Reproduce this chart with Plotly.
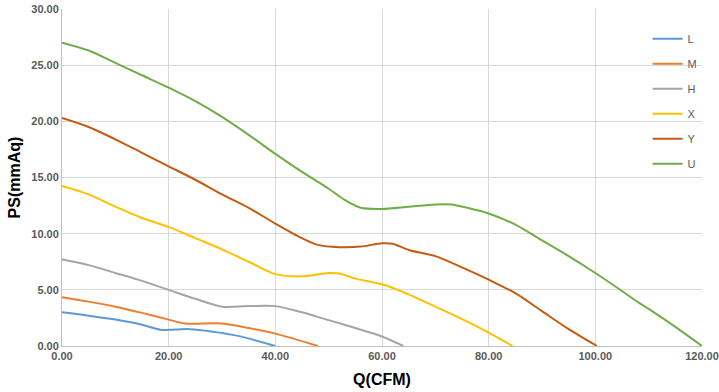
import plotly.graph_objects as go

L_q = [0, 5, 10, 15, 18.5, 24, 28, 33, 40]
L_ps = [3.0, 2.7, 2.35, 1.9, 1.45, 1.5, 1.3, 0.9, 0.0]

M_q = [0, 5, 10, 15, 20, 23, 30, 35, 40, 48]
M_ps = [4.35, 3.95, 3.5, 2.95, 2.35, 2.0, 2.0, 1.6, 1.1, 0.0]

H_q = [0, 5, 10, 15, 20, 25, 30, 35, 40, 45, 50, 55, 60, 64]
H_ps = [7.7, 7.2, 6.5, 5.8, 5.0, 4.2, 3.5, 3.55, 3.55, 3.0, 2.3, 1.6, 0.85, 0.0]

X_q = [0, 5, 10, 15, 20, 25, 30, 35, 40, 45, 50, 52, 55, 60, 65, 70, 75, 80, 84.5]
X_ps = [14.25, 13.5, 12.4, 11.4, 10.6, 9.6, 8.6, 7.5, 6.4, 6.2, 6.5, 6.45, 6.0, 5.5, 4.6, 3.5, 2.4, 1.2, 0.0]

Y_q = [0, 5, 10, 15, 20, 25, 30, 35, 40, 45, 48, 52, 56, 60, 62, 65, 70, 75, 80, 85, 90, 95, 100.3]
Y_ps = [20.3, 19.5, 18.4, 17.2, 16.0, 14.8, 13.5, 12.3, 10.9, 9.6, 9.0, 8.8, 8.85, 9.15, 9.1, 8.55, 8.0, 7.0, 5.9, 4.7, 3.1, 1.5, 0.0]

U_q = [0, 5, 10, 15, 20, 25, 30, 35, 40, 45, 50, 53, 56, 60, 65, 70, 73, 76, 80, 85, 90, 95, 100, 105, 108, 110, 115, 120]
U_ps = [27.0, 26.3, 25.2, 24.1, 23.0, 21.8, 20.4, 18.8, 17.1, 15.5, 14.0, 13.0, 12.3, 12.2, 12.4, 12.6, 12.6, 12.3, 11.8, 10.8, 9.4, 8.0, 6.5, 4.9, 3.9, 3.3, 1.7, 0.0]

series = [
    ("L", L_q, L_ps, "#5B9BD5"),
    ("M", M_q, M_ps, "#ED7D31"),
    ("H", H_q, H_ps, "#A5A5A5"),
    ("X", X_q, X_ps, "#FFC000"),
    ("Y", Y_q, Y_ps, "#C55A11"),
    ("U", U_q, U_ps, "#70AD47"),
]

x_ticks = [0, 20, 40, 60, 80, 100, 120]
y_ticks = [0, 5, 10, 15, 20, 25, 30]

fig = go.Figure()
for name, q, ps, color in series:
    fig.add_trace(go.Scatter(
        x=q, y=ps, name=name, mode="lines",
        line=dict(color=color, width=2, shape="spline", smoothing=0.8),
        legendgroup=name,
    ))

tickfont = dict(family="Liberation Sans", size=11, color="#595959")
fig.update_layout(
    width=719, height=392,
    margin=dict(l=62, r=17, t=9, b=46),
    paper_bgcolor="white", plot_bgcolor="white",
    showlegend=True,
    legend=dict(
        x=0.915, y=0.955, xanchor="left", yanchor="top",
        bgcolor="rgba(0,0,0,0)",
        font=dict(family="Liberation Sans", size=11, color="#595959"),
        itemwidth=30, traceorder="grouped", tracegroupgap=6,
    ),
    xaxis=dict(
        range=[0, 120], tickvals=x_ticks,
        ticktext=[f"<b>{v:.2f}</b>" for v in x_ticks],
        tickfont=tickfont, showgrid=True, gridcolor="#D9D9D9", gridwidth=1,
        showline=True, linecolor="#BFBFBF", linewidth=1, zeroline=False,
        ticks="", ticklen=0, automargin=False,
        title=dict(text="<b>Q(CFM)</b>", font=dict(family="Liberation Sans", size=16, color="black"), standoff=12),
    ),
    yaxis=dict(
        range=[0, 30], tickvals=y_ticks,
        ticktext=[f"<b>{v:.2f}</b>" for v in y_ticks],
        tickfont=tickfont, showgrid=True, gridcolor="#D9D9D9", gridwidth=1,
        showline=True, linecolor="#BFBFBF", linewidth=1, zeroline=False,
        ticks="", ticklen=0, automargin=False,
        title=dict(text="<b>PS(mmAq)</b>", font=dict(family="Liberation Sans", size=16, color="black"), standoff=6),
    ),
)

fig.write_html("out.html")
